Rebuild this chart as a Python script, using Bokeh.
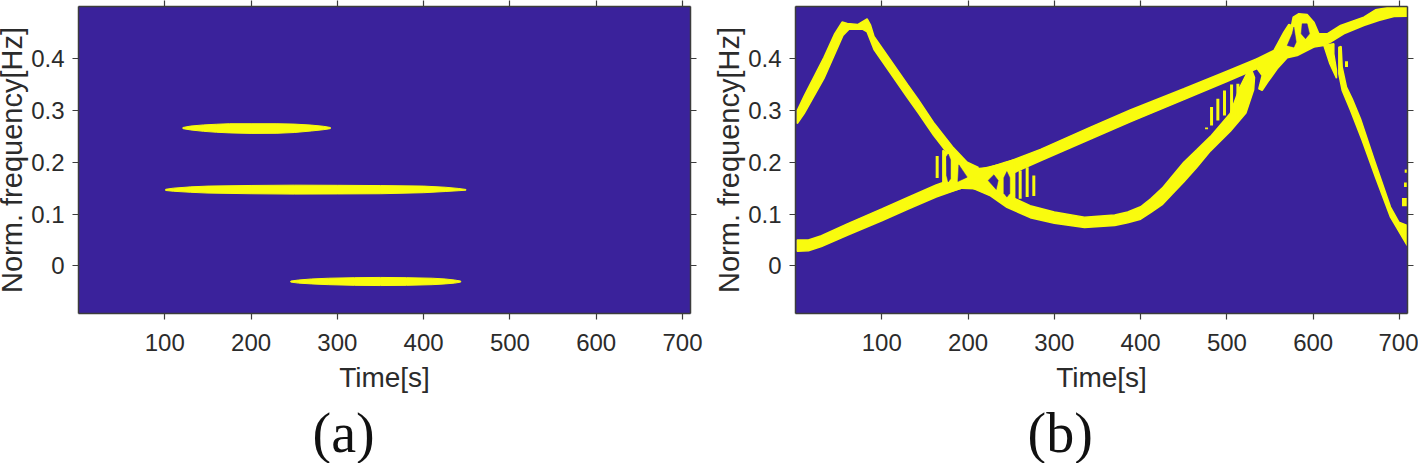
from bokeh.plotting import figure
from bokeh.layouts import row
from bokeh.models import FixedTicker, LinearAxis, Range1d, Title
from bokeh.embed import file_html
from bokeh.resources import INLINE

BG = "#3A229B"
YEL = "#F9FB0E"
INK = "#2b2b2b"

x_ticks = [100, 200, 300, 400, 500, 600, 700]
x_labels = ["100", "200", "300", "400", "500", "600", "700"]
y_ticks = [0, 0.1, 0.2, 0.3, 0.4]
y_labels = ["0", "0.1", "0.2", "0.3", "0.4"]
x_label = "Time[s]"
y_label = "Norm. frequency[Hz]"

# --- panel (a): three streaks
a1_t = [121, 130, 145, 160, 175, 200, 230, 250, 270, 284, 292]
a1_up = [.2672, .2700, .2722, .2735, .2745, .2745, .2745, .2738, .2718, .2695, .2672]
a1_lo = [.2650, .2625, .2598, .2580, .2568, .2558, .2560, .2575, .2605, .2630, .2650]
a2_t = [101, 110, 130, 150, 200, 250, 300, 350, 400, 425, 440, 449]
a2_up = [.1478, .1500, .1525, .1540, .1552, .1558, .1555, .1550, .1540, .1518, .1495, .1475]
a2_lo = [.1455, .1440, .1420, .1405, .1392, .1385, .1388, .1392, .1412, .1435, .1450, .1460]
a3_t = [246, 255, 270, 290, 320, 350, 380, 410, 425, 436, 443]
a3_up = [-.0295, -.0275, -.0255, -.0240, -.0230, -.0225, -.0230, -.0240, -.0255, -.0275, -.0295]
a3_lo = [-.0315, -.0335, -.0350, -.0365, -.0378, -.0382, -.0378, -.0365, -.0350, -.0335, -.0315]

# --- panel (b): ridges, each an outline
chirp_t = [2, 15, 30, 60, 100, 130, 163, 190, 215, 240, 284, 342, 388, 450, 500, 535]
chirp_up = [.050, .050, .058, .081, .110, .132, .156, .172, .187, .197, .225, .268, .301, .342, .376, .400]
chirp_lo = [.028, .029, .037, .059, .087, .109, .133, .149, .160, .170, .203, .245, .278, .321, .356, .381]

peak_t = [2, 10, 33, 45, 54, 60, 72, 83, 87, 91, 130, 142, 160, 182, 199, 212,
          199, 182, 160, 142, 130, 91, 83, 78, 62, 55, 33, 10, 2]
peak_f = [.300, .328, .403, .447, .471, .468, .466, .477, .465, .443, .350, .322, .277, .230, .200, .190,
          .178, .205, .252, .296, .324, .418, .452, .457, .457, .445, .362, .294, .275]

top_t = [535, 554.4, 566, 571.8, 574.9, 576.8, 583.4, 593, 600.8, 606.6, 616.2, 631.7, 658.7, 672.2, 685.8, 709,
         709, 693.5, 676, 658.7, 635.5, 620.1, 612, 600.8, 581.5, 569.9, 558.3, 548.6, 540.9, 537, 540.9, 535]
top_f = [.400, .416, .4515, .4663, .4644, .4805, .487, .4857, .4708, .4483, .4483, .4644, .4805, .4947, .4985, .4985,
         .4824, .4818, .474, .4644, .4483, .4322, .4257, .4225, .4064, .4019, .3807, .3581, .3388, .342, .3678, .381]

knot_t = [170.8, 182, 199, 208.6, 224, 243.4, 254, 254, 247.3, 228, 208.6, 193, 170.8]
knot_f = [.2228, .210, .190, .1874, .1893, .2003, .205, .112, .1166, .1423, .1488, .150, .139]

bowl_t = [205, 226, 245, 272, 300, 335, 370, 385, 400, 412, 425, 437, 450, 465, 481, 504, 515, 525,
          529, 532, 531, 522, 504, 481, 465, 450, 437, 425, 412, 400, 385, 370, 335, 300, 272, 245, 226, 205]
bowl_f = [.175, .155, .137, .116, .104, .094, .098, .104, .114, .130, .150, .174, .200, .224, .250, .295, .345, .378,
          .377, .364, .340, .295, .260, .222, .190, .162, .139, .118, .103, .090, .083, .078, .074, .082, .093, .113, .135, .150]

fall_t = [632.4, 633.6, 638.6, 645.2, 654.8, 670.3, 689.6, 699.3, 708.9,
          708.9, 689.6, 672.2, 656.8, 643.3, 633.6, 629.7, 629.7]
fall_f = [.4238, .3839, .3452, .3227, .284, .2068, .1134, .0844, .078,
          .0393, .094, .1713, .2422, .3001, .3388, .371, .4225]

wedge_t = [612.4, 619.3, 627, 627, 623.9, 623.9]
wedge_f = [.4257, .3903, .3626, .3774, .4096, .4289]

# purple openings left inside the knots
hole_ts = [
    [174.6, 177, 179.7, 179.7, 177, 175],
    [189.3, 199, 188.2],
    [229.9, 234.9, 232.6, 223.3],
    [245, 248.4, 248.4, 245, 241.5, 241.5],
    [577.6, 580.3, 577.6, 569.9, 575.7],
    [587.2, 593, 595.7, 591.1, 586.1],
]
hole_fs = [
    [.210, .216, .205, .168, .162, .175],
    [.1951, .1713, .1629],
    [.1758, .1649, .1475, .1649],
    [.182, .170, .140, .1327, .140, .170],
    [.4612, .4322, .4225, .4257, .4483],
    [.4676, .4676, .4483, .4386, .4483],
]

# short vertical interference stripes
stripe_t = [164.2, 172.7, 260.4, 268.5, 276.2, 476.4, 482.2, 489.5, 497.2, 505.4, 512.7, 638.6, 707.8, 707.0]
stripe_f0 = [.1694, .1552, .1294, .1327, .1346, .2640, .2712, .2809, .2905, .2937, .2905, .3839, .1800, .1520]
stripe_f1 = [.2119, .2196, .1842, .1906, .1745, .2670, .3066, .3227, .3388, .3504, .3517, .3954, .1860, .1610]
speck_t = [705.8]
speck_f0 = [.115]
speck_f1 = [.131]


def panel(width, left, right, cap, cap_off, ylab_gap, margin):
    p = figure(width=width, height=467, output_backend="svg", toolbar_location=None,
               x_range=Range1d(0, 709.3), y_range=Range1d(-0.0922, 0.501),
               min_border_left=left, min_border_right=right, min_border_top=6, min_border_bottom=154,
               background_fill_color=BG, border_fill_color="white", outline_line_color=None,
               margin=margin)
    p.grid.visible = False
    bot = p.below[0]
    lft = p.left[0]
    top = LinearAxis()
    rgt = LinearAxis()
    p.add_layout(top, "above")
    p.add_layout(rgt, "right")
    for ax in (bot, top):
        ax.ticker = FixedTicker(ticks=x_ticks)
    for ax in (lft, rgt):
        ax.ticker = FixedTicker(ticks=y_ticks)
    for ax in (bot, lft, top, rgt):
        ax.axis_line_color = "#3c3c3c"
        ax.axis_line_width = 1.5
        ax.major_tick_line_color = "#3c3c3c"
        ax.major_tick_line_width = 1.2
        ax.major_tick_in = 0
        ax.major_tick_out = 6
        ax.minor_tick_line_color = None
        ax.major_label_text_font = "Liberation Sans"
        ax.major_label_text_font_size = "24px"
        ax.major_label_text_color = INK
        ax.axis_label_text_font = "Liberation Sans"
        ax.axis_label_text_font_size = "28px"
        ax.axis_label_text_font_style = "normal"
        ax.axis_label_text_color = INK
    top.major_label_overrides = {t: "" for t in x_ticks}
    rgt.major_label_overrides = {t: "" for t in y_ticks}
    for ax in (top, rgt):
        ax.major_label_text_font_size = "1px"
        ax.major_label_standoff = 0
    bot.major_label_overrides = dict(zip(x_ticks, x_labels))
    lft.major_label_overrides = dict(zip(y_ticks, y_labels))
    bot.major_label_standoff = 14
    lft.major_label_standoff = 8
    bot.axis_label = x_label
    bot.axis_label_standoff = 8
    p.add_layout(Title(text=y_label, align="center", standoff=ylab_gap, text_font="Liberation Sans",
                       text_font_size="29px", text_font_style="normal", text_color=INK, text_line_height=1.0),
                 "left")
    p.add_layout(Title(text=cap, align="left", offset=cap_off, standoff=8, text_font="Liberation Serif",
                       text_font_size="56px", text_font_style="normal", text_color="#111111",
                       text_line_height=1.0),
                 "below")
    return p


def band(p, t, up, lo, w):
    p.patch(x=t + t[::-1], y=up + lo[::-1], fill_color=YEL, line_color=YEL, line_width=w)


pa = panel(718, 86, 20, "(a)", 234, 2, (0, 0, 0, -8))
band(pa, a1_t, a1_up, a1_lo, 1)
band(pa, a2_t, a2_up, a2_lo, 1)
band(pa, a3_t, a3_up, a3_lo, 1)

pb = panel(709, 86, 11, "(b)", 232, 2, (0, 0, 0, -1))
band(pb, chirp_t, chirp_up, chirp_lo, 1.5)
pb.patches([peak_t, top_t, knot_t, bowl_t, fall_t, wedge_t],
           [peak_f, top_f, knot_f, bowl_f, fall_f, wedge_f],
           fill_color=YEL, line_color=YEL, line_width=1.5)
pb.patches(hole_ts, hole_fs, fill_color=BG, line_color=BG, line_width=0.5)
pb.segment(x0=stripe_t, y0=stripe_f0, x1=stripe_t, y1=stripe_f1, line_color=YEL, line_width=3)
pb.segment(x0=speck_t, y0=speck_f0, x1=speck_t, y1=speck_f1, line_color=YEL, line_width=5)

page = row(pa, pb, spacing=0, margin=(0, 0, 0, 0))
open("out.html", "w").write(file_html(page, INLINE))
